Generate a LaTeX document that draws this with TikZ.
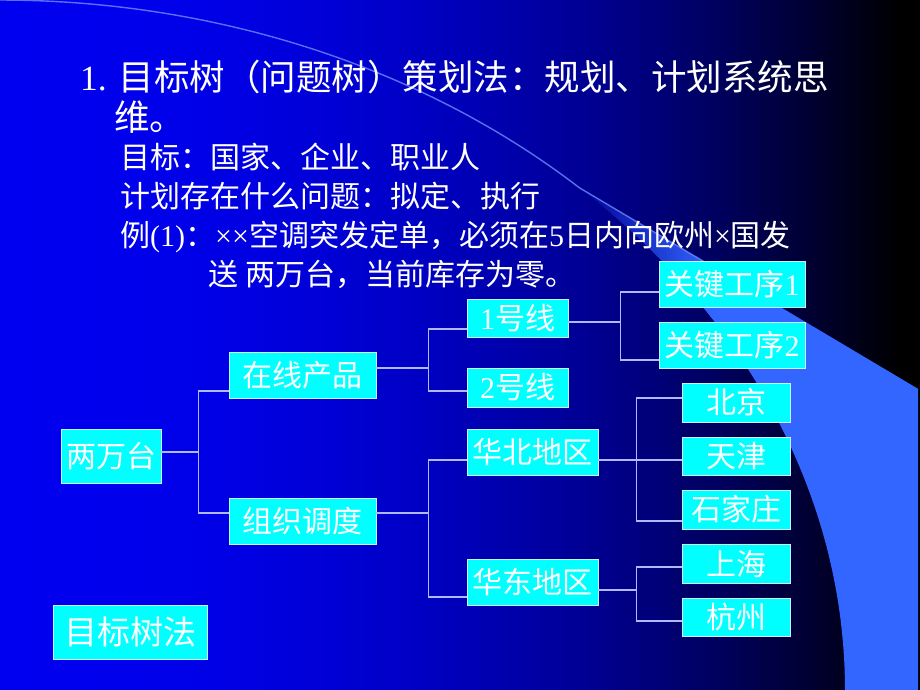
\documentclass[tikz,border=0pt]{standalone}
\usepackage{fontspec}
\setmainfont{Noto Sans CJK SC}
\newfontfamily\lat{Liberation Serif}
\definecolor{lightreg}{RGB}{51,102,255}
\definecolor{boxfill}{RGB}{0,255,255}
\definecolor{connc}{RGB}{176,184,255}
\definecolor{streakc}{RGB}{110,140,255}
\definecolor{wedgel}{rgb}{0,0,0.58}
\begin{document}
\begin{tikzpicture}[x=1pt,y=-1pt,
  box/.style={draw=white!80!cyan, line width=0.8pt, fill=boxfill, text=white, inner sep=0pt, font=\fontsize{30}{36}\selectfont},
  conn/.style={draw=connc, line width=1.3pt},
  txt/.style={text=white, inner sep=0pt, anchor=base west}]
\useasboundingbox (0,0) rectangle (920,690);
\clip (0,0) rectangle (920,690);
% background gradient
\foreach \i in {0,...,183}{
  \pgfmathsetmacro\bb{max(0,0.94*(1-((\i*5+2.5)/900)^2.2))}
  \definecolor{stripc}{rgb}{0,0,\bb}
  \fill[stripc] (\i*5,0) rectangle (\i*5+5.4,690);
}
% light curved region
\fill[lightreg] (710,265.2) -- (918,388.8) -- (918,690) -- (845,690)
  -- plot[domain=0:32.8,samples=50] ({845*cos(\x)},{690-690*sin(\x)}) -- cycle;
\shade[left color=wedgel, right color=lightreg] (579.5,188.9) -- (711,265.8) -- (711,316.5)
  -- plot[domain=32.7:46.7,samples=20] ({845*cos(\x)},{690-690*sin(\x)}) -- cycle;
\draw[streakc, line width=1.4pt, opacity=0.8]
  plot[domain=90:46.7,samples=60] ({845*cos(\x)},{690-690*sin(\x)}) -- (711,265.8);

% title texts
\node[txt, font=\fontsize{35.5}{40}\selectfont] (t1) at (80,91) {{\lat 1. }目标树（问题树）策划法：规划、计划系统思};
\node[txt, font=\fontsize{35.5}{40}\selectfont] (t2) at (114,130) {维。};
\node[txt, font=\fontsize{30}{36}\selectfont] (t3) at (120,168) {目标：国家、企业、职业人};
\node[txt, font=\fontsize{30}{36}\selectfont] (t4) at (120,207) {计划存在什么问题：拟定、执行};
\node[txt, font=\fontsize{30}{36}\selectfont] (t5) at (120,246) {例{\lat(1)}：{\lat ××}空调突发定单，必须在{\lat 5}日内向欧州{\lat ×}国发};
\node[txt, font=\fontsize{30}{36}\selectfont] (t6) at (208,285) {送{\lat\ }两万台，当前库存为零。};

% boxes
\node[box, minimum width=100pt, minimum height=54pt] (lw) at (111,456) {两万台};
\node[box, minimum width=147pt, minimum height=46pt] (zx) at (302.5,375) {在线产品};
\node[box, minimum width=147pt, minimum height=46pt] (zz) at (302.5,521) {组织调度};
\node[box, minimum width=101pt, minimum height=38pt] (x1) at (517.5,318) {{\lat 1}号线};
\node[box, minimum width=101pt, minimum height=39pt] (x2) at (517.5,387.5) {{\lat 2}号线};
\node[box, minimum width=131pt, minimum height=46pt] (hb) at (532.5,452) {华北地区};
\node[box, minimum width=131pt, minimum height=46pt] (hd) at (532.5,582) {华东地区};
\node[box, minimum width=146pt, minimum height=46pt] (g1) at (732,284) {关键工序{\lat 1}};
\node[box, minimum width=146pt, minimum height=46pt] (g2) at (732,345) {关键工序{\lat 2}};
\node[box, minimum width=108pt, minimum height=39pt] (bj) at (736,402.5) {北京};
\node[box, minimum width=108pt, minimum height=38pt] (tj) at (736,456) {天津};
\node[box, minimum width=108pt, minimum height=39pt] (sjz) at (736,509.5) {石家庄};
\node[box, minimum width=108pt, minimum height=39pt] (sh) at (736,563.5) {上海};
\node[box, minimum width=108pt, minimum height=38pt] (hz) at (736,617) {杭州};
\node[box, minimum width=154pt, minimum height=54pt, font=\fontsize{33}{38}\selectfont] (mbsf) at (130,632) {目标树法};

% connectors
\draw[conn] ([yshift=4]lw.east) -- ++(38,0);
\draw[conn] ([yshift=-16]zx.west) -| ([xshift=-30,yshift=8]zz.west) -- ([yshift=8]zz.west);
\draw[conn] ([yshift=7]zx.east) -- ++(53,0);
\draw[conn] ([yshift=-11]x1.west) -| ([xshift=-38,yshift=-3.5]x2.west) -- ([yshift=-3.5]x2.west);
\draw[conn] ([yshift=8]zz.east) -- ++(53,0);
\draw[conn] ([yshift=-8]hb.west) -| ([xshift=-38,yshift=-15]hd.west) -- ([yshift=-15]hd.west);
\draw[conn] ([yshift=-4]x1.east) -- ++(53,0);
\draw[conn] ([yshift=-8]g1.west) -| ([xshift=-38,yshift=-15]g2.west) -- ([yshift=-15]g2.west);
\draw[conn] ([yshift=-8]hb.east) -- ([yshift=-4]tj.west);
\draw[conn] ([yshift=4.5]bj.west) -| ([xshift=-45,yshift=-11.5]sjz.west) -- ([yshift=-11.5]sjz.west);
\draw[conn] ([yshift=-8]hd.east) -- ++(39,0);
\draw[conn] ([yshift=-3.5]sh.west) -| ([xshift=-45,yshift=-4]hz.west) -- ([yshift=-4]hz.west);
\end{tikzpicture}
\end{document}
